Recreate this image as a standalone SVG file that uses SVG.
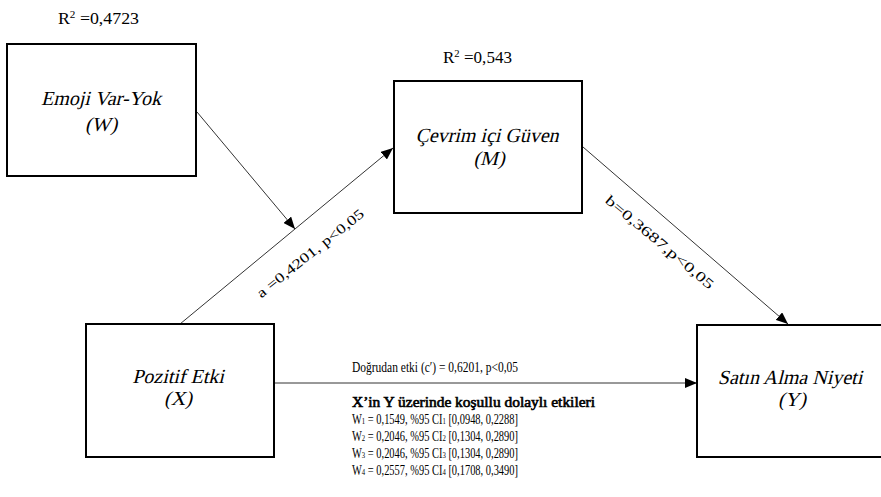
<svg xmlns="http://www.w3.org/2000/svg" width="881" height="497" viewBox="0 0 881 497">
<style>
.box{fill:#fff;stroke:#000;stroke-width:2}
.lbl{font-family:"Liberation Serif",serif;font-size:20px;fill:#000;text-anchor:middle}
.t{font-family:"Liberation Serif",serif;font-size:14px;fill:#000}
.r2{font-family:"Liberation Serif",serif;font-size:16px;fill:#000}
.edge{stroke:#333;stroke-width:1;fill:none;marker-end:url(#arr)}
</style>
<defs>
<marker id="arr" viewBox="0 0 12 10" refX="12" refY="5" markerWidth="12" markerHeight="10" markerUnits="userSpaceOnUse" orient="auto">
<path d="M0,0 L12,5 L0,10 Z" fill="#000"/>
</marker>
</defs>
<rect width="881" height="497" fill="#fff"/>
<g id="connectors">
<line class="edge" x1="197" y1="112" x2="295" y2="229"/>
<line class="edge" x1="180" y1="324" x2="393" y2="148"/>
<line class="edge" x1="583" y1="147" x2="788" y2="324"/>
<line class="edge" x1="274" y1="383" x2="697" y2="383"/>
<text class="t" font-size="15" transform="translate(310,253) rotate(-38.6)" text-anchor="middle" y="5" textLength="133" lengthAdjust="spacingAndGlyphs">a =0,4201, p&lt;0,05</text>
<text class="t" font-size="15" transform="translate(660,242) rotate(40)" text-anchor="middle" y="5" textLength="137" lengthAdjust="spacingAndGlyphs">b=0,3687,p&lt;0,05</text>
<text class="t" x="352" y="372" textLength="166" lengthAdjust="spacingAndGlyphs">Doğrudan etki (c′) = 0,6201, p&lt;0,05</text>
</g>
<g id="node-W">
<text class="r2" x="58" y="24" textLength="81" lengthAdjust="spacingAndGlyphs">R<tspan font-size="10" dy="-6">2</tspan><tspan dy="6"> =0,4723</tspan></text>
<rect class="box" x="7" y="44" width="189" height="132"/>
<text class="lbl" transform="translate(101,105) skewX(-14)">Emoji Var-Yok</text>
<text class="lbl" transform="translate(101,131) skewX(-14)">(W)</text>
</g>
<g id="node-M">
<text class="r2" x="443" y="63" textLength="69" lengthAdjust="spacingAndGlyphs">R<tspan font-size="10" dy="-6">2</tspan><tspan dy="6"> =0,543</tspan></text>
<rect class="box" x="394" y="81" width="188" height="132"/>
<text class="lbl" transform="translate(487,142) skewX(-14)">Çevrim içi Güven</text>
<text class="lbl" transform="translate(489,165) skewX(-14)">(M)</text>
</g>
<g id="node-X">
<rect class="box" x="86" y="324" width="188" height="133"/>
<text class="lbl" transform="translate(178,383) skewX(-14)">Pozitif Etki</text>
<text class="lbl" transform="translate(178,405) skewX(-14)">(X)</text>
</g>
<g id="node-Y">
<rect class="box" x="697" y="325" width="190" height="132"/>
<text class="lbl" transform="translate(790,384) skewX(-14)">Satın Alma Niyeti</text>
<text class="lbl" transform="translate(792,406) skewX(-14)">(Y)</text>
</g>
<g id="indirect-effects">
<text class="t" x="352" y="407" font-size="15" stroke="#000" stroke-width="0.6" textLength="243" lengthAdjust="spacingAndGlyphs">X’in Y üzerinde koşullu dolaylı etkileri</text>
<text class="t" x="352" y="424" textLength="166" lengthAdjust="spacingAndGlyphs">W<tspan font-size="9">1</tspan> = 0,1549, %95 CI<tspan font-size="9">1</tspan> [0,0948, 0,2288]</text>
<text class="t" x="352" y="441" textLength="166" lengthAdjust="spacingAndGlyphs">W<tspan font-size="9">2</tspan> = 0,2046, %95 CI<tspan font-size="9">2</tspan> [0,1304, 0,2890]</text>
<text class="t" x="352" y="458" textLength="166" lengthAdjust="spacingAndGlyphs">W<tspan font-size="9">3</tspan> = 0,2046, %95 CI<tspan font-size="9">3</tspan> [0,1304, 0,2890]</text>
<text class="t" x="352" y="475" textLength="166" lengthAdjust="spacingAndGlyphs">W<tspan font-size="9">4</tspan> = 0,2557, %95 CI<tspan font-size="9">4</tspan> [0,1708, 0,3490]</text>
</g>
</svg>
